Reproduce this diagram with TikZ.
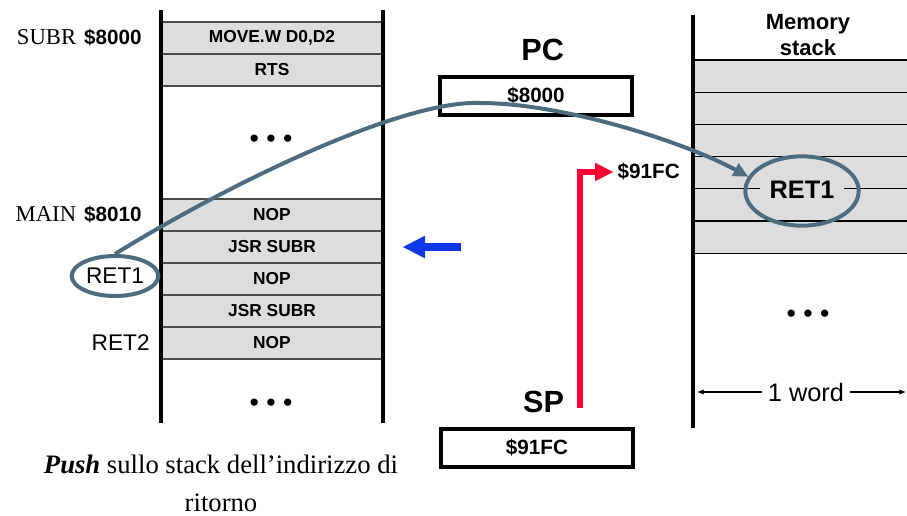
\documentclass[tikz,border=0pt]{standalone}
\usepackage{fontspec}
\setmainfont{Liberation Sans}
\newfontfamily\timesrm{Liberation Serif}
\usepackage{tikz}
\usetikzlibrary{positioning, arrows.meta, shapes.geometric}
\definecolor{rowgray}{RGB}{221,221,221}
\definecolor{steel}{RGB}{78,108,128}
\definecolor{ptrred}{RGB}{255,0,51}
\definecolor{ptrblue}{RGB}{15,55,230}

\begin{document}
\begin{tikzpicture}[
            x=0.75pt, y=-0.75pt,
            node distance=0pt,
            instr/.style={rectangle, draw=black!70, fill=rowgray, line width=0.8pt, minimum width=166.5pt, minimum height=24pt, outer sep=0pt, inner sep=0pt, font=\fontsize{13}{15}\selectfont\bfseries},
            slot/.style={rectangle, draw=black, fill=rowgray, line width=0.8pt, minimum width=172.5pt, minimum height=24.15pt, outer sep=0pt},
            wall/.style={line width=3pt},
            addr/.style={font=\fontsize{15.5}{18}\selectfont},
            plain/.style={font=\fontsize{17}{20}\selectfont},
            reg/.style={rectangle, draw, line width=2.5pt, minimum width=144pt, minimum height=28.5pt, font=\fontsize{15.5}{18}\selectfont\bfseries},
            regname/.style={font=\fontsize{23}{26}\selectfont\bfseries},
            hilite/.style={ellipse, draw=steel, line width=3pt, inner sep=0pt},
            dots/.style={font=\fontsize{20}{22}\selectfont},
            retpath/.style={draw=steel, line width=3pt, -{Triangle[length=11pt,width=11pt,line width=0pt]}},
            curarrow/.style={draw=ptrblue, line width=6.5pt, -{Triangle[length=16.5pt,width=17pt,line width=0pt]}},
            sparrow/.style={draw=ptrred, line width=4.5pt, -{Triangle[length=13.5pt,width=14pt,line width=0pt]}},
            span/.style={line width=0.8pt, -{Latex[length=5pt,width=4pt]}}
        ]
        \useasboundingbox (0,0) rectangle (907,515);

        % Program memory
        \node[instr] (mv) at (272,38) {MOVE.W D0,D2};
        \node[instr, below=of mv] (rts) {RTS};
        \node[instr] (nopA) at (272,215) {NOP};
        \node[instr, below=of nopA] (jsrA) {JSR SUBR};
        \node[instr, below=of jsrA] (nopB) {NOP};
        \node[instr, below=of nopB] (jsrB) {JSR SUBR};
        \node[instr, below=of jsrB] (nopC) {NOP};
        \draw[wall] (161,10) -- (161,423);
        \draw[wall] (383,10) -- (383,423);
        \node[dots] (dotsA) at (271,141) {• • •};
        \node[dots] (dotsB) at (271,405) {• • •};

        % Labels of the program
        \node[addr, left=11pt of mv] (subr) {{\timesrm\fontsize{17}{18}\selectfont SUBR}\hspace{6pt}\textbf{\$8000}};
        \node[addr, left=11pt of nopA] (main) {{\timesrm\fontsize{17}{18}\selectfont MAIN}\hspace{6pt}\textbf{\$8010}};
        \node[hilite, plain, minimum width=65pt, minimum height=30pt] (retA) at (115,276) {RET1};
        \node[plain, left=5pt of nopC] (retC) {RET2};

        % Registers
        \node[reg] (pcbox) at (536,96) {\$8000};
        \node[regname, above=7pt of pcbox, xshift=5pt] (pc) {PC};
        \node[reg] (spbox) at (537,448) {\$91FC};
        \node[regname, above=7pt of spbox, xshift=5pt] (sp) {SP};
        \node[addr, anchor=west, font=\fontsize{15.5}{18}\selectfont\bfseries] (spval) at (613,172) {\$91FC};

        % Memory stack
        \node[font=\fontsize{16.5}{19.5}\selectfont\bfseries, align=center] (memlbl) at (808,35) {Memory\\stack};
        \node[slot] (s1) at (808,76.1) {};
        \node[slot, below=of s1] (s2) {};
        \node[slot, below=of s2] (s3) {};
        \node[slot, below=of s3] (s4) {};
        \node[slot, below=of s4] (s5) {};
        \node[slot, below=of s5] (s6) {};
        \draw[wall] (693,15) -- (693,428);
        \node[dots] (dotsC) at (808,316) {• • •};
        \node[fill=rowgray, inner xsep=7pt, inner ysep=1pt, font=\fontsize{19}{22}\selectfont\bfseries] (retBtext) at (802,190) {RET1};
        \node[hilite, minimum width=85pt, minimum height=52pt] (retB) at (802,191) {};

        % Word width
        \node[font=\fontsize{19}{22}\selectfont, inner xsep=4.5pt] (word) at (806,392) {1 word};
        \coordinate (wordL) at (697,392);
        \coordinate (wordR) at (906,392);
        \draw[span] (word.west) -- (wordL);
        \draw[span] (word.east) -- (wordR);

        % Draw the arrows
        \coordinate (apex) at (480,103);
        \draw[retpath] (retA.north) .. controls (225,186) and (400,100) .. (apex) .. controls (560,103) and (680,140) .. (retB.165);
        \coordinate (pcmark) at (461,247);
        \draw[curarrow] (pcmark) -- ([xshift=15pt]jsrA.east);
        \coordinate (spfoot) at (580,408);
        \draw[sparrow] (spfoot) |- (spval.west);

        % Caption
        \node[font=\timesrm\fontsize{20}{28.5}\selectfont, align=center] (caption) at (221,483) {\textbf{\textit{Push}} sullo stack dell’indirizzo di\\ritorno};
    \end{tikzpicture}
\end{document}
